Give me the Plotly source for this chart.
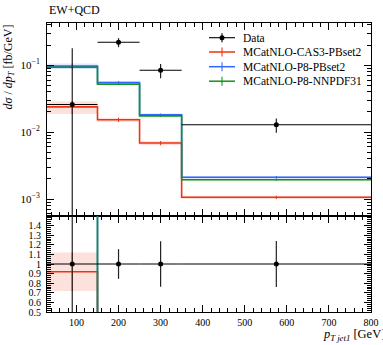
import plotly.graph_objects as go
import numpy as np

# ---------------- data ----------------
edges = [30, 150, 250, 350, 800]
centers = [90, 200, 300, 575]

data_vals = [0.0259, 0.22, 0.084, 0.0129]
data_err_up = [0.153, 0.034, 0.020, 0.0031]
data_err_dn = [0.02589, 0.034, 0.020, 0.0031]

red_vals = [0.0238, 0.0153, 0.00686, 0.00106]
red_err = [0.0052, 0.0011, 0.0005, 0.00006]
blue_vals = [0.097, 0.055, 0.0181, 0.00211]
blue_err = [0.009, 0.0028, 0.0009, 0.0001]
green_vals = [0.093, 0.052, 0.0175, 0.00194]
green_err = [0.003, 0.0015, 0.0005, 0.00006]

names = ["MCatNLO-CAS3-PBset2", "MCatNLO-P8-PBset2", "MCatNLO-P8-NNPDF31"]
colors = ["#EE3311", "#3366FF", "#109618"]
bands = ["rgba(238,51,17,0.15)", "rgba(51,102,255,0.15)", "rgba(16,150,24,0.15)"]

x_ticks = [100, 200, 300, 400, 500, 600, 700, 800]
y_ticks = [1e-3, 1e-2, 1e-1]
y_ticktext = ["10<sup>−3</sup>", "10<sup>−2</sup>", "10<sup>−1</sup>"]
r_ticks = [0.5, 0.6, 0.7, 0.8, 0.9, 1.0, 1.1, 1.2, 1.3, 1.4]
r_ticktext = ["0.5", "0.6", "0.7", "0.8", "0.9", "1", "1.1", "1.2", "1.3", "1.4"]

FONT = "Liberation Serif"
W, H = 383, 345
L, R, T, B = 47, 12, 23, 33
PW, PH = W - L - R, H - T - B


def step(v):
    return list(v) + [v[-1]]


fig = go.Figure()

mcs = [(red_vals, red_err), (blue_vals, blue_err), (green_vals, green_err)]
dv = np.array(data_vals)

for panel, (xa, ya) in enumerate([("x", "y"), ("x2", "y2")]):
    norm = np.ones(4) if panel == 0 else dv
    for (vals, errs), c, bc in zip(mcs, colors, bands):
        v = np.array(vals) / norm
        e = np.array(errs) / norm
        fig.add_trace(go.Scatter(x=edges, y=step(v + e), mode="lines", line=dict(width=0, shape="hv"),
                                 xaxis=xa, yaxis=ya, showlegend=False, hoverinfo="skip"))
        fig.add_trace(go.Scatter(x=edges, y=step(v - e), mode="lines", line=dict(width=0, shape="hv"),
                                 fill="tonexty", fillcolor=bc,
                                 xaxis=xa, yaxis=ya, showlegend=False, hoverinfo="skip"))
    for (vals, errs), c in zip(mcs, colors):
        v = np.array(vals) / norm
        e = np.array(errs) / norm
        fig.add_trace(go.Scatter(x=edges, y=step(v), mode="lines", line=dict(color=c, width=1.6, shape="hv"),
                                 xaxis=xa, yaxis=ya, showlegend=False, hoverinfo="skip"))
        fig.add_trace(go.Scatter(x=centers, y=v, mode="markers", marker=dict(size=0.1, color=c),
                                 error_y=dict(type="data", array=e, color=c, thickness=1, width=0),
                                 xaxis=xa, yaxis=ya, showlegend=False, hoverinfo="skip"))
    # data
    d = dv / norm
    eu = np.array(data_err_up) / norm
    ed = np.array(data_err_dn) / norm
    xl = [c - e0 for c, e0 in zip(centers, edges[:-1])]
    xr = [e1 - c for c, e1 in zip(centers, edges[1:])]
    fig.add_trace(go.Scatter(x=centers, y=d, mode="markers", marker=dict(size=5, color="black"),
                             error_y=dict(type="data", array=eu, arrayminus=ed, color="#222222", thickness=1.2, width=0),
                             error_x=dict(type="data", array=xr, arrayminus=xl, color="black", thickness=1.1, width=0),
                             xaxis=xa, yaxis=ya, showlegend=False, hoverinfo="skip"))

minor_log = [m * 10.0 ** k for k in range(-4, 0) for m in range(2, 10)]
tickfont = dict(family=FONT, size=10, color="black")
common_x = dict(range=[30, 800], showline=True, linecolor="black", linewidth=1, mirror="ticks",
                ticks="inside", ticklen=7, tickcolor="black", tickwidth=1, automargin=False,
                tickvals=x_ticks, minor=dict(dtick=20, tick0=0, ticks="inside", ticklen=4, tickcolor="black"),
                showgrid=False, zeroline=False, tickfont=tickfont)

fig.update_layout(
    width=W, height=H,
    margin=dict(l=L, r=R, t=T, b=B, autoexpand=False),
    paper_bgcolor="white", plot_bgcolor="white",
    showlegend=False,
    xaxis=dict(domain=[0, 1], anchor="y", showticklabels=False, **common_x),
    xaxis2=dict(domain=[0, 1], anchor="y2", matches="x", showticklabels=True, ticklabelstandoff=1, **common_x),
    yaxis=dict(domain=[96 / PH, 1], type="log", range=[-3.254, -0.369], anchor="x", automargin=False,
               showline=True, linecolor="black", linewidth=1, mirror="ticks",
               ticks="inside", ticklen=7, tickcolor="black", tickvals=y_ticks, ticktext=y_ticktext,
               minor=dict(tickvals=minor_log, ticks="inside", ticklen=4, tickcolor="black"),
               showgrid=False, zeroline=False, tickfont=dict(family=FONT, size=11, color="black"),
               ticklabelstandoff=4),
    yaxis2=dict(domain=[0, 96 / PH], range=[0.5, 1.5], anchor="x2", automargin=False,
                showline=True, linecolor="black", linewidth=1, mirror="ticks",
                ticks="inside", ticklen=7, tickcolor="black", tickvals=r_ticks, ticktext=r_ticktext,
                minor=dict(dtick=0.02, tick0=0, ticks="inside", ticklen=4, tickcolor="black"),
                showgrid=False, zeroline=False, tickfont=tickfont, ticklabelstandoff=3),
)


def px(xp):
    return (xp - L) / PW


def py(yp):
    return (H - B - yp) / PH


ann = []
ann.append(dict(text="EW+QCD", x=px(47), y=py(10), xref="paper", yref="paper", xanchor="left",
                yanchor="middle", showarrow=False, font=dict(family=FONT, size=12, color="black")))
ann.append(dict(text="<i>dσ</i> / <i>dp</i><sub><i>T</i></sub> [fb/GeV]", x=px(8), y=py(23),
                xref="paper", yref="paper", xanchor="center", yanchor="top", textangle=-90,
                showarrow=False, font=dict(family=FONT, size=12, color="black")))
ann.append(dict(text="<i>p</i><sub><i>T jet1</i></sub> [GeV]", x=px(387), y=py(335), xref="paper",
                yref="paper", xanchor="right", yanchor="middle", showarrow=False,
                font=dict(family=FONT, size=12.5, color="black")))

# legend (drawn manually)
leg_names = ["Data"] + names
leg_cols = ["black"] + colors
leg_y = [37.7, 52.0, 66.7, 81.2]
shapes = []
for nm, c, yy in zip(leg_names, leg_cols, leg_y):
    shapes.append(dict(type="line", xref="paper", yref="paper", x0=px(209), x1=px(235), y0=py(yy), y1=py(yy),
                       line=dict(color=c, width=1.5 if c != "black" else 1.1)))
    shapes.append(dict(type="line", xref="paper", yref="paper", x0=px(222), x1=px(222), y0=py(yy - 4.5),
                       y1=py(yy + 4.5), line=dict(color=c, width=1.1)))
    ann.append(dict(text=nm, x=px(241), y=py(yy), xref="paper", yref="paper", xanchor="left",
                    yanchor="middle", showarrow=False, font=dict(family=FONT, size=11.5, color="black")))
shapes.append(dict(type="circle", xref="paper", yref="paper", x0=px(219.5), x1=px(224.5),
                   y0=py(leg_y[0] - 2.5), y1=py(leg_y[0] + 2.5), fillcolor="black", line=dict(width=0)))

fig.update_layout(annotations=ann, shapes=shapes)
fig.write_html("out.html", config={"displayModeBar": False},
               post_script="document.body.style.margin='0';")
